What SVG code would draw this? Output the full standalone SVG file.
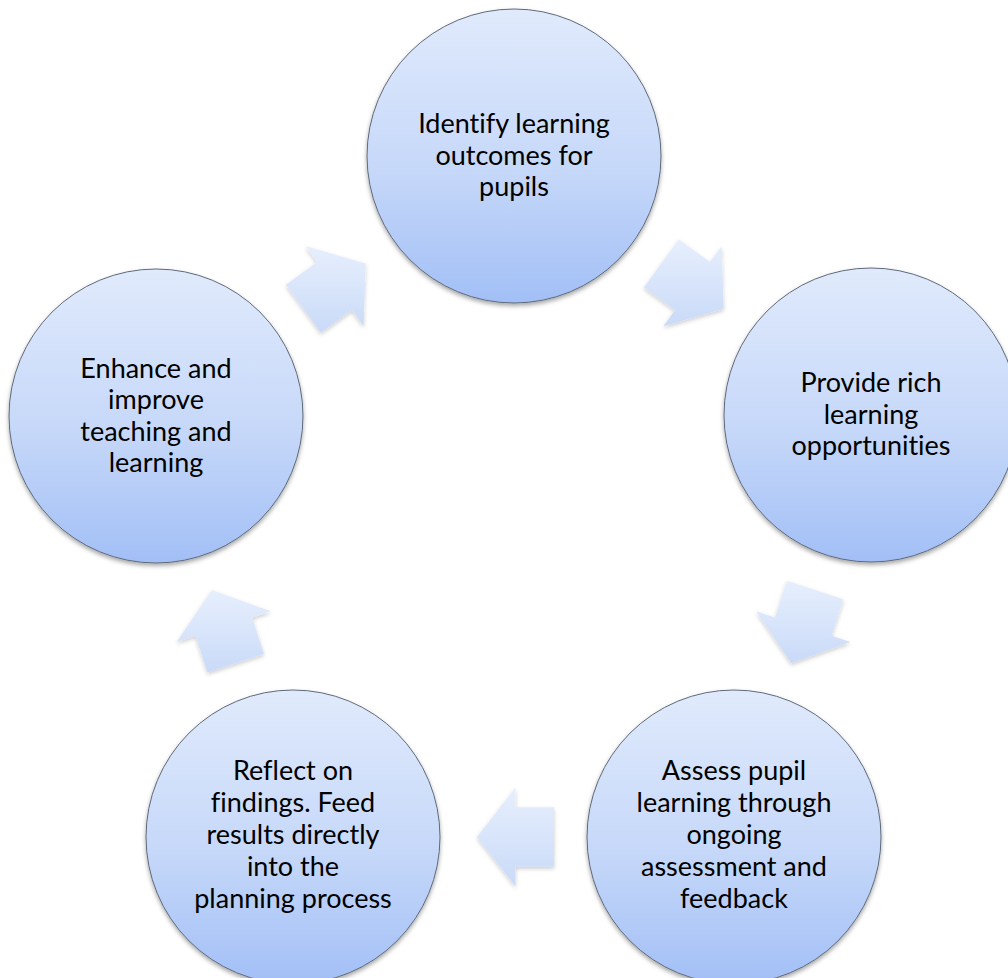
<svg xmlns="http://www.w3.org/2000/svg" width="1008" height="978" viewBox="0 0 1008 978">
  <defs>
    <linearGradient id="gCircle" x1="0" y1="0" x2="0" y2="1">
      <stop offset="0" stop-color="#e0eafc"/>
      <stop offset="0.55" stop-color="#c6d8f9"/>
      <stop offset="1" stop-color="#a2bff6"/>
    </linearGradient>
    <linearGradient id="gArrow" x1="0" y1="0" x2="0" y2="1">
      <stop offset="0" stop-color="#e7effd"/>
      <stop offset="1" stop-color="#c9daf8"/>
    </linearGradient>
    <filter id="shadow" x="-10%" y="-10%" width="120%" height="125%">
      <feDropShadow dx="0" dy="2.5" stdDeviation="2" flood-color="#000" flood-opacity="0.35"/>
    </filter>
    <filter id="ashadow" x="-15%" y="-15%" width="130%" height="135%">
      <feDropShadow dx="0" dy="2" stdDeviation="2" flood-color="#000" flood-opacity="0.2"/>
    </filter>
  </defs>
  <style>
    .node circle { fill: url(#gCircle); stroke: #5f6a7a; stroke-width: 1; filter: url(#shadow); }
    .node text { font-family: Lato, "Open Sans", "Liberation Sans", sans-serif; font-size: 27px; fill: #000; text-anchor: middle; font-variant-ligatures: none; }
    .arrow { fill: url(#gArrow); stroke: none; filter: url(#ashadow); }
  </style>
  <rect width="1008" height="978" fill="#ffffff"/>

  <g id="connectors">
    <polygon class="arrow" points="285.9,284.7 317.0,262.1 305.4,246.1 365.6,263.5 363.6,326.2 352.0,310.1 320.8,332.8"/>
    <polygon class="arrow" points="678.8,239.4 710.0,262.1 721.6,246.1 723.7,308.7 663.4,326.2 675.0,310.1 643.9,287.5"/>
    <polygon class="arrow" points="843.4,599.2 831.5,635.8 850.3,641.9 791.3,663.2 756.1,611.3 775.0,617.4 786.9,580.8"/>
    <polygon class="arrow" points="554,866.7 515.5,866.7 515.5,886.5 477,837 515.5,787.5 515.5,807.3 554,807.3"/>
    <polygon class="arrow" points="207.5,672.4 195.6,635.8 176.7,641.9 211.9,590.0 270.9,611.3 252.1,617.4 264.0,654.0"/>
  </g>

  <g id="node-identify" class="node">
    <circle cx="514" cy="156" r="147"/>
    <text x="514" y="133">Identify learning</text>
    <text x="514" y="164.5">outcomes for</text>
    <text x="514" y="196">pupils</text>
  </g>
  <g id="node-provide" class="node">
    <circle cx="871" cy="415" r="147"/>
    <text x="871" y="392">Provide rich</text>
    <text x="871" y="423.5">learning</text>
    <text x="871" y="455">opportunities</text>
  </g>
  <g id="node-assess" class="node">
    <circle cx="734" cy="837" r="147"/>
    <text x="734" y="780">Assess pupil</text>
    <text x="734" y="812">learning through</text>
    <text x="734" y="844">ongoing</text>
    <text x="734" y="876">assessment and</text>
    <text x="734" y="908">feedback</text>
  </g>
  <g id="node-reflect" class="node">
    <circle cx="293" cy="837" r="147"/>
    <text x="293" y="780">Reflect on</text>
    <text x="293" y="812">findings. Feed</text>
    <text x="293" y="844">results directly</text>
    <text x="293" y="876">into the</text>
    <text x="293" y="908">planning process</text>
  </g>
  <g id="node-enhance" class="node">
    <circle cx="156" cy="416" r="147"/>
    <text x="156" y="377.5">Enhance and</text>
    <text x="156" y="409">improve</text>
    <text x="156" y="440.5">teaching and</text>
    <text x="156" y="472">learning</text>
  </g>
</svg>
